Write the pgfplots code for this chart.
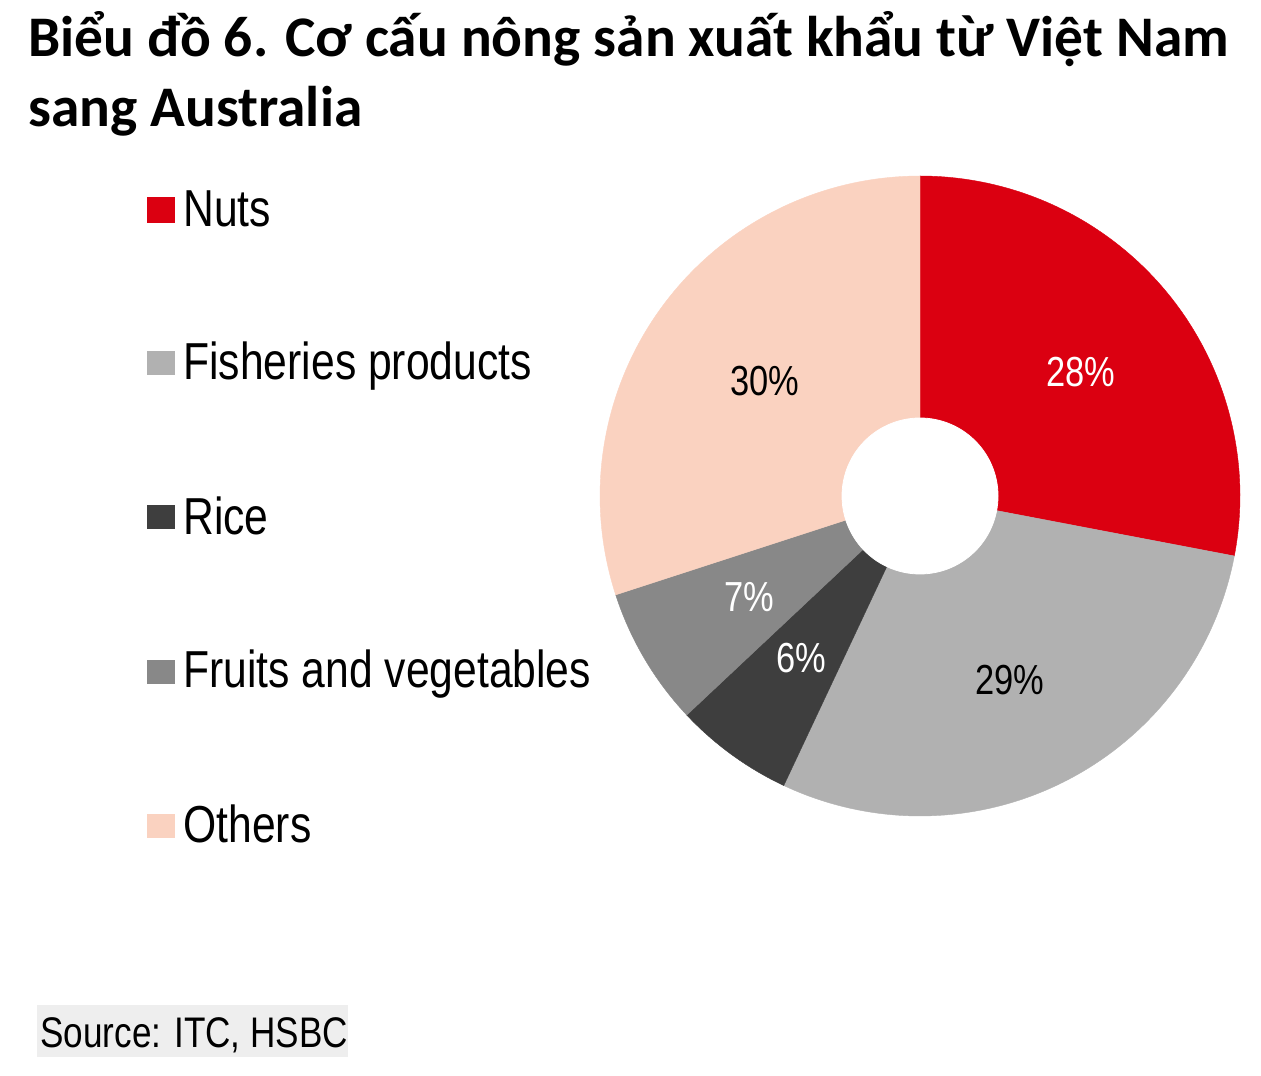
\documentclass[border=0pt]{standalone}
\usepackage{pgfplots}
\pgfplotsset{compat=1.18}
\usepackage{pgfplotstable}
\usepackage{fontspec}
\setmainfont{Liberation Sans}
\newfontfamily\narrow[FakeStretch=0.82]{Liberation Sans}
\newfontfamily\titlefont{Carlito}
\definecolor{cNuts}{RGB}{219,0,17}
\definecolor{cFish}{RGB}{177,177,177}
\definecolor{cRice}{RGB}{62,62,62}
\definecolor{cFruit}{RGB}{136,136,136}
\definecolor{cOther}{RGB}{250,210,192}
\definecolor{cSrc}{RGB}{238,238,238}
\pgfplotstableread{
cat share
Nuts 28
Fisheries 29
Rice 6
Fruits 7
Others 30
}\sharetable
\pgfplotstablegetelem{0}{share}\of\sharetable \let\sNuts\pgfplotsretval
\pgfplotstablegetelem{1}{share}\of\sharetable \let\sFish\pgfplotsretval
\pgfplotstablegetelem{2}{share}\of\sharetable \let\sRice\pgfplotsretval
\pgfplotstablegetelem{3}{share}\of\sharetable \let\sFruit\pgfplotsretval
\pgfplotstablegetelem{4}{share}\of\sharetable \let\sOther\pgfplotsretval
\pgfmathsetmacro\aO{90}
\pgfmathsetmacro\aA{\aO-3.6*\sNuts}
\pgfmathsetmacro\aB{\aA-3.6*\sFish}
\pgfmathsetmacro\aC{\aB-3.6*\sRice}
\pgfmathsetmacro\aD{\aC-3.6*\sFruit}
\pgfmathsetmacro\aE{\aD-3.6*\sOther}
\begin{document}
\begin{tikzpicture}
\begin{axis}[
  width=630.5pt, height=537.5pt, scale only axis,
  xmin=0, xmax=1261, ymin=0, ymax=1075,
  hide axis, clip=false,
]
\path (axis cs:0,0) rectangle (axis cs:1261,1075);
% wedges
\addplot[fill=cNuts, draw=cNuts, line width=0.2pt, domain=\aA:\aO, samples=100, variable=\t]
  ({920+320*cos(\t)}, {579+320*sin(\t)}) -- (axis cs:920,579) -- cycle;
\addplot[fill=cFish, draw=cFish, line width=0.2pt, domain=\aB:\aA, samples=100, variable=\t]
  ({920+320*cos(\t)}, {579+320*sin(\t)}) -- (axis cs:920,579) -- cycle;
\addplot[fill=cRice, draw=cRice, line width=0.2pt, domain=\aC:\aB, samples=40, variable=\t]
  ({920+320*cos(\t)}, {579+320*sin(\t)}) -- (axis cs:920,579) -- cycle;
\addplot[fill=cFruit, draw=cFruit, line width=0.2pt, domain=\aD:\aC, samples=40, variable=\t]
  ({920+320*cos(\t)}, {579+320*sin(\t)}) -- (axis cs:920,579) -- cycle;
\addplot[fill=cOther, draw=cOther, line width=0.2pt, domain=\aE:\aD, samples=100, variable=\t]
  ({920+320*cos(\t)}, {579+320*sin(\t)}) -- (axis cs:920,579) -- cycle;
% hole
\addplot[fill=white, draw=white, domain=0:360, samples=120, variable=\t]
  ({920+78*cos(\t)}, {579+78*sin(\t)}) -- cycle;
% slice labels
\begin{scope}[every node/.style={inner sep=0pt, anchor=base, font=\narrow\fontsize{21}{25}\selectfont}]
\node[text=white] at (axis cs:1081,688) {\sNuts\%};
\node[text=black] at (axis cs:1010,380) {\sFish\%};
\node[text=white] at (axis cs:801,402) {\sRice\%};
\node[text=white] at (axis cs:749,463) {\sFruit\%};
\node[text=black] at (axis cs:765,679) {\sOther\%};
\end{scope}
% legend
\fill[cNuts] (axis cs:147,852) rectangle (axis cs:175,878);
\fill[cFish] (axis cs:147,700) rectangle (axis cs:175,724);
\fill[cRice] (axis cs:147,546) rectangle (axis cs:175,570);
\fill[cFruit] (axis cs:147,391) rectangle (axis cs:175,415);
\fill[cOther] (axis cs:147,237) rectangle (axis cs:175,261);
\begin{scope}[every node/.style={inner sep=0pt, anchor=base west, font=\narrow\fontsize{26}{30}\selectfont}]
\node at (axis cs:183,848) {Nuts};
\node at (axis cs:183,695) {Fisheries products};
\node at (axis cs:183,540) {Rice};
\node at (axis cs:183,387) {Fruits and vegetables};
\node at (axis cs:183,232) {Others};
\end{scope}
% title
\begin{scope}[every node/.style={inner sep=0pt, anchor=base west, font=\titlefont\bfseries\fontsize{28.7}{34}\selectfont}]
\node at (axis cs:28,1018) {Biểu đồ 6. Cơ cấu nông sản xuất khẩu từ Việt Nam};
\node at (axis cs:28,948) {sang Australia};
\end{scope}
% source
\fill[cSrc] (axis cs:37,18) rectangle (axis cs:348,70);
\node[inner sep=0pt, anchor=base west, font=\narrow\fontsize{21.4}{26}\selectfont] at (axis cs:40,28) {Source: ITC, HSBC};
\end{axis}
\end{tikzpicture}
\end{document}
